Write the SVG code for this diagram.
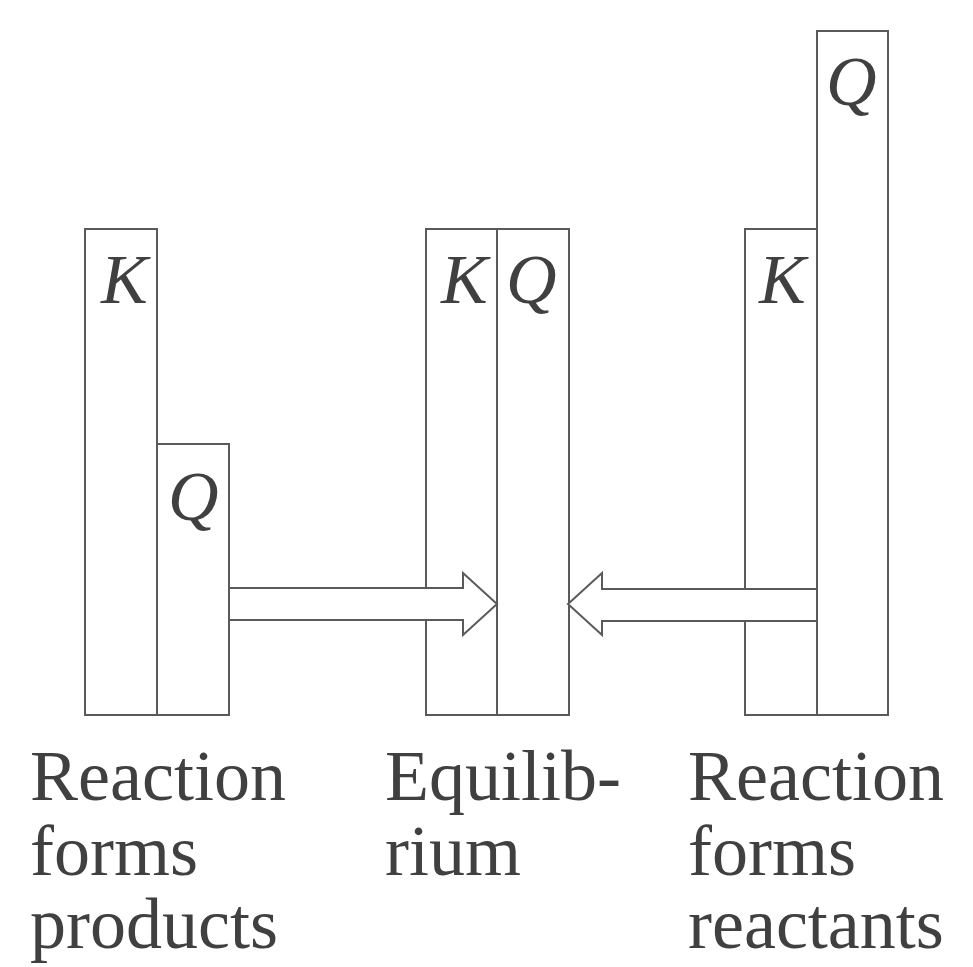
<svg xmlns="http://www.w3.org/2000/svg" width="973" height="967" viewBox="0 0 973 967">
<style>
.bar{fill:#fff;stroke:#5a5a5a;stroke-width:2}
.arr{fill:#fff;stroke:#5a5a5a;stroke-width:2;stroke-linejoin:miter}
.sym{font-family:"Liberation Serif","DejaVu Serif",serif;font-style:italic;font-size:70px;fill:#404040}
.lbl{font-family:"Liberation Serif","DejaVu Serif",serif;font-size:72px;fill:#404040}
</style>
<rect width="973" height="967" fill="#fff"/>
<g id="products">
<rect class="bar" x="85" y="229" width="72" height="486"/>
<rect class="bar" x="157" y="444" width="72" height="271"/>
<text class="sym" x="101" y="303">K</text>
<text class="sym" x="168" y="520">Q</text>
</g>
<g id="equilibrium">
<rect class="bar" x="426" y="229" width="71" height="486"/>
<rect class="bar" x="497" y="229" width="72" height="486"/>
<text class="sym" x="441" y="303">K</text>
<text class="sym" x="506" y="303">Q</text>
</g>
<g id="reactants">
<rect class="bar" x="745" y="229" width="72" height="486"/>
<rect class="bar" x="817" y="31" width="71" height="684"/>
<text class="sym" x="759" y="303">K</text>
<text class="sym" x="826" y="105">Q</text>
</g>
<g id="connectors">
<polygon class="arr" points="229,588 463,588 463,573 497,604 463,635 463,620 229,620"/>
<polygon class="arr" points="817,589 602,589 602,573 568,604 602,635 602,621 817,621"/>
</g>
<g id="labels">
<text class="lbl" x="30" y="800">Reaction</text>
<text class="lbl" x="30" y="875">forms</text>
<text class="lbl" x="30" y="948">products</text>
<text class="lbl" x="385" y="800">Equilib-</text>
<text class="lbl" x="385" y="875">rium</text>
<text class="lbl" x="688" y="800">Reaction</text>
<text class="lbl" x="688" y="875">forms</text>
<text class="lbl" x="688" y="948">reactants</text>
</g>
</svg>
